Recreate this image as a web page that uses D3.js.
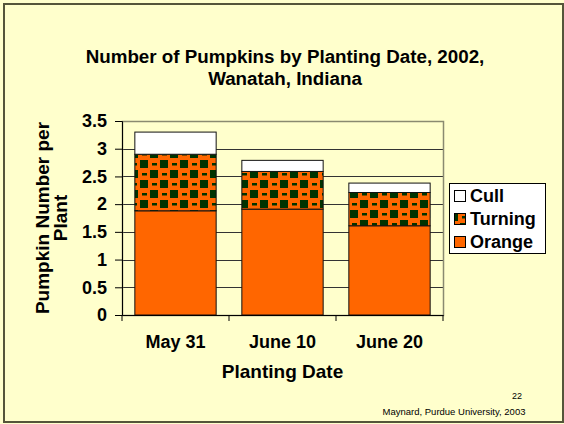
<!DOCTYPE html>
<meta charset="utf-8">
<head>
    <title>Pumpkins by planting date</title>
    <style>
        body { margin: 0; background: #FFFFCC; }
        text { font-family: Arial, "Liberation Sans", sans-serif; }
    </style>
</head>
<body>

<script src="https://d3js.org/d3.v7.min.js"></script>

<div id="my_dataviz"></div>

<script>

    // the data
    var dates = ["May 31", "June 10", "June 20"]
    var orange = [1.88, 1.91, 1.61]
    var turning = [1.02, 0.68, 0.60]
    var cull = [0.40, 0.20, 0.17]
    var yTicks = [0, 0.5, 1, 1.5, 2, 2.5, 3, 3.5]
    var seriesNames = ["Cull", "Turning", "Orange"]

    var W = 564, H = 424
    var plot = {left: 122, right: 443, top: 121, bottom: 315}

    var svg = d3.select("#my_dataviz")
        .append("svg")
        .attr("width", W)
        .attr("height", H)
        .style("display", "block")

    // background + slide frame
    svg.append("rect")
        .attr("width", W).attr("height", H)
        .style("fill", "#FFFFCC")
    svg.append("rect")
        .attr("x", 4).attr("y", 4)
        .attr("width", 559).attr("height", 418)
        .style("fill", "none")
        .style("stroke", "#55553a")
        .style("stroke-width", 2)

    // the checker pattern for "Turning"
    var defs = svg.append("defs")
    var pat = defs.append("pattern")
        .attr("id", "turning")
        .attr("patternUnits", "userSpaceOnUse")
        .attr("width", 20).attr("height", 20)
    pat.append("rect").attr("width", 20).attr("height", 20).style("fill", "#FF6600")
    pat.append("rect").attr("x", 0).attr("y", 0).attr("width", 8).attr("height", 8).style("fill", "#003300")
    pat.append("rect").attr("x", 10).attr("y", 10).attr("width", 8).attr("height", 8).style("fill", "#003300")
    pat.append("rect").attr("x", 12).attr("y", 3).attr("width", 5).attr("height", 2.5).style("fill", "#003300")
    pat.append("rect").attr("x", 2).attr("y", 13).attr("width", 5).attr("height", 2.5).style("fill", "#003300")

    var colors = {Orange: "#FF6600", Turning: "url(#turning)", Cull: "#FFFFFF"}

    // scales
    var x = d3.scaleBand()
        .range([plot.left, plot.right])
        .domain(dates)
        .paddingInner(0.24)
        .paddingOuter(0.12)

    var y = d3.scaleLinear()
        .range([plot.bottom, plot.top])
        .domain([0, 3.5])

    // grid lines
    svg.append("g")
        .selectAll("line")
        .data(yTicks.filter(function(d) { return d > 0 && d < 3.5 }))
        .enter()
        .append("line")
        .attr("x1", plot.left).attr("x2", plot.right)
        .attr("y1", function(d) { return Math.round(y(d)) + 0.5 })
        .attr("y2", function(d) { return Math.round(y(d)) + 0.5 })
        .style("stroke", "#333")

    // plot area border (grey)
    svg.append("rect")
        .attr("x", plot.left + 0.5).attr("y", plot.top + 0.5)
        .attr("width", plot.right - plot.left).attr("height", plot.bottom - plot.top)
        .style("fill", "none")
        .style("stroke", "#8a8a70")
        .style("stroke-width", 1.5)

    // stacked bars
    var stackData = dates.map(function(d, i) {
        return {date: d, Orange: orange[i], Turning: turning[i], Cull: cull[i]}
    })
    var series = d3.stack().keys(["Orange", "Turning", "Cull"])(stackData)

    svg.append("g")
        .selectAll("g")
        .data(series)
        .enter()
        .append("g")
        .style("fill", function(s) { return colors[s.key] })
        .selectAll("rect")
        .data(function(s) { return s })
        .enter()
        .append("rect")
        .attr("x", function(d) { return x(d.data.date) })
        .attr("y", function(d) { return y(d[1]) })
        .attr("width", x.bandwidth())
        .attr("height", function(d) { return y(d[0]) - y(d[1]) })
        .style("stroke", "#111")
        .style("stroke-width", 1)

    // y axis
    var yAxis = svg.append("g")
        .attr("transform", "translate(" + plot.left + ",0)")
        .call(d3.axisLeft(y).tickValues(yTicks).tickSize(7).tickPadding(8)
            .tickFormat(function(d) { return d }))
    yAxis.select(".domain").style("stroke", "#000")
    yAxis.selectAll("text")
        .style("font-size", "18px")
        .style("font-weight", "bold")
        .style("font-family", "Arial, 'Liberation Sans', sans-serif")
        .attr("fill", "#000")

    // x axis
    var xAxis = svg.append("g")
        .attr("transform", "translate(0," + plot.bottom + ")")
        .call(d3.axisBottom(x).tickSize(0).tickPadding(20))
    xAxis.select(".domain").style("stroke", "#000")
    xAxis.selectAll("text")
        .style("font-size", "18px")
        .style("font-weight", "bold")
        .style("font-family", "Arial, 'Liberation Sans', sans-serif")
        .attr("fill", "#000")
    // ticks between the categories
    xAxis.selectAll(".sep")
        .data(d3.range(dates.length + 1))
        .enter()
        .append("line")
        .attr("x1", function(i) { return plot.left + i * x.step() })
        .attr("x2", function(i) { return plot.left + i * x.step() })
        .attr("y1", 0).attr("y2", 6)
        .style("stroke", "#000")

    // axis titles
    svg.append("text")
        .attr("x", (plot.left + plot.right) / 2)
        .attr("y", 378)
        .style("text-anchor", "middle")
        .style("font-weight", "bold")
        .style("font-size", "19px")
        .text("Planting Date")

    var yTitle = svg.append("text")
        .attr("transform", "translate(0,218) rotate(-90)")
        .style("text-anchor", "middle")
        .style("font-weight", "bold")
        .style("font-size", "19px")
    yTitle.append("tspan").attr("x", 0).attr("y", 49).text("Pumpkin Number per")
    yTitle.append("tspan").attr("x", 0).attr("y", 67).text("Plant")

    // chart title
    svg.append("text")
        .attr("x", 285).attr("y", 63)
        .style("text-anchor", "middle")
        .style("font-weight", "bold")
        .style("font-size", "18.8px")
        .text("Number of Pumpkins by Planting Date, 2002,")
    svg.append("text")
        .attr("x", 285).attr("y", 85)
        .style("text-anchor", "middle")
        .style("font-weight", "bold")
        .style("font-size", "18.8px")
        .text("Wanatah, Indiana")

    // legend
    var legend = svg.append("g")
    legend.append("rect")
        .attr("x", 449.5).attr("y", 183.5)
        .attr("width", 96).attr("height", 70)
        .style("fill", "#FFFFFF")
        .style("stroke", "#000")
    var items = legend.selectAll(".item")
        .data(seriesNames)
        .enter()
        .append("g")
        .attr("transform", function(d, i) { return "translate(0," + (i * 23) + ")" })
    items.append("rect")
        .attr("x", 454.5).attr("y", 190.5)
        .attr("width", 11).attr("height", 11)
        .style("fill", function(d) { return colors[d] })
        .style("stroke", "#000")
    items.append("text")
        .attr("x", 470).attr("y", 202)
        .style("font-weight", "bold")
        .style("font-size", "18px")
        .text(function(d) { return d })

    // footer
    svg.append("text")
        .attr("x", 517).attr("y", 399)
        .style("text-anchor", "middle")
        .style("font-size", "9px")
        .text("22")
    svg.append("text")
        .attr("x", 454).attr("y", 415)
        .style("text-anchor", "middle")
        .style("font-size", "9.5px")
        .text("Maynard, Purdue University, 2003")

</script>
</body>
